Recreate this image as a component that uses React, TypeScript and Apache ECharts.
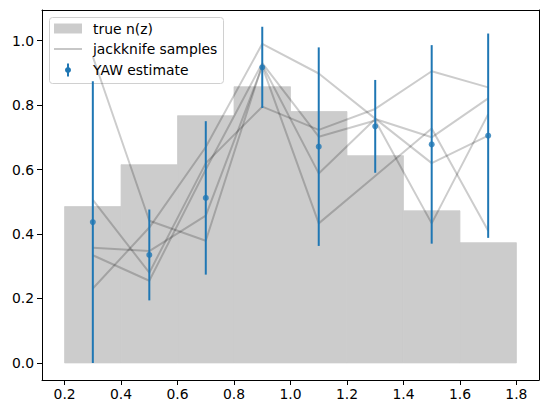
import React, { useEffect, useRef } from 'react';
import * as echarts from 'echarts';

// histogram bins of the true redshift distribution
const binEdges = [0.2, 0.4, 0.6, 0.8, 1.0, 1.2, 1.4, 1.6, 1.8];
const trueNz = [0.485, 0.615, 0.767, 0.857, 0.78, 0.643, 0.472, 0.373];

// YAW estimate at the bin centres, with symmetric errors
const zMid = [0.3, 0.5, 0.7, 0.9, 1.1, 1.3, 1.5, 1.7];
const yawValues = [0.437, 0.335, 0.512, 0.917, 0.671, 0.734, 0.678, 0.705];
const yawErrors = [0.437, 0.141, 0.238, 0.126, 0.308, 0.144, 0.308, 0.317];

// jackknife samples
const jack1 = [0.95, 0.441, 0.379, 0.925, 0.588, 0.757, 0.7, 0.821];
const jack2 = [0.506, 0.28, 0.62, 0.795, 0.723, 0.788, 0.905, 0.855];
const jack3 = [0.357, 0.347, 0.457, 0.92, 0.433, 0.58, 0.727, 0.41];
const jack4 = [0.334, 0.255, 0.6, 0.93, 0.702, 0.752, 0.433, 0.772];
const jack5 = [0.231, 0.42, 0.67, 0.99, 0.898, 0.758, 0.62, 0.705];
const jackSamples = [jack1, jack2, jack3, jack4, jack5];

const xTicks = [0.2, 0.4, 0.6, 0.8, 1.0, 1.2, 1.4, 1.6, 1.8];
const yTicks = [0.0, 0.2, 0.4, 0.6, 0.8, 1.0];

const FONT = 'DejaVu Sans';
const BLUE = '#1f77b4';
const X_MIN = 0.12;
const X_MAX = 1.88;
const Y_MIN = -0.053;
const Y_MAX = 1.095;

const App: React.FC = () => {
  const chartRef = useRef<HTMLDivElement | null>(null);

  useEffect(() => {
    if (!chartRef.current) return;
    const chart = echarts.init(chartRef.current, undefined, { renderer: 'svg' });

    const histData = trueNz.map((h, i) => [binEdges[i], binEdges[i + 1], h]);
    const errData = zMid.map((z, i) => [z, yawValues[i], yawErrors[i]]);

    const jackSeries = jackSamples.map((s) => ({
      type: 'line',
      data: zMid.map((z, i) => [z, s[i]]),
      showSymbol: false,
      symbol: 'none',
      lineStyle: { color: 'rgba(0,0,0,0.2)', width: 2 },
      z: 3,
      silent: true,
    }));

    const spine = { show: true, onZero: false, lineStyle: { color: '#000', width: 1 } };

    const option: any = {
      animation: false,
      grid: { left: 42, top: 10, right: 8, bottom: 33 },
      xAxis: [
        {
          type: 'value',
          min: X_MIN,
          max: X_MAX,
          splitLine: { show: false },
          axisLine: spine,
          axisTick: {
            show: true,
            length: 5,
            lineStyle: { color: '#000', width: 1 },
            customValues: xTicks,
          },
          axisLabel: {
            color: '#000',
            fontFamily: FONT,
            fontSize: 13.9,
            margin: 7,
            customValues: xTicks,
            formatter: (v: number) => v.toFixed(1),
          },
        },
        {
          type: 'value',
          position: 'top',
          min: X_MIN,
          max: X_MAX,
          splitLine: { show: false },
          axisLine: spine,
          axisTick: { show: false },
          axisLabel: { show: false },
        },
      ],
      yAxis: [
        {
          type: 'value',
          min: Y_MIN,
          max: Y_MAX,
          splitLine: { show: false },
          axisLine: spine,
          axisTick: {
            show: true,
            length: 5,
            lineStyle: { color: '#000', width: 1 },
            customValues: yTicks,
          },
          axisLabel: {
            color: '#000',
            fontFamily: FONT,
            fontSize: 13.9,
            margin: 8,
            customValues: yTicks,
            formatter: (v: number) => v.toFixed(1),
          },
        },
        {
          type: 'value',
          position: 'right',
          min: Y_MIN,
          max: Y_MAX,
          splitLine: { show: false },
          axisLine: spine,
          axisTick: { show: false },
          axisLabel: { show: false },
        },
      ],
      series: [
        {
          type: 'custom',
          data: histData,
          encode: { x: [0, 1], y: 2 },
          z: 1,
          silent: true,
          renderItem: (params: any, api: any) => {
            const p0 = api.coord([api.value(0), api.value(2)]);
            const p1 = api.coord([api.value(1), 0]);
            return {
              type: 'rect',
              shape: { x: p0[0], y: p0[1], width: p1[0] - p0[0], height: p1[1] - p0[1] },
              style: { fill: '#cccccc', stroke: '#cccccc', lineWidth: 0.8 },
            };
          },
        },
        ...jackSeries,
        {
          type: 'custom',
          data: errData,
          encode: { x: 0, y: 1 },
          z: 5,
          silent: true,
          renderItem: (params: any, api: any) => {
            const x = api.value(0);
            const y = api.value(1);
            const e = api.value(2);
            const lo = api.coord([x, y - e]);
            const hi = api.coord([x, y + e]);
            return {
              type: 'line',
              shape: { x1: lo[0], y1: lo[1], x2: hi[0], y2: hi[1] },
              style: { stroke: BLUE, lineWidth: 2 },
            };
          },
        },
        {
          type: 'scatter',
          data: zMid.map((z, i) => [z, yawValues[i]]),
          symbol: 'circle',
          symbolSize: 6,
          itemStyle: { color: BLUE },
          z: 6,
          silent: true,
        },
      ],
      graphic: [
        {
          type: 'group',
          z: 100,
          children: [
            {
              type: 'rect',
              shape: { x: 49.5, y: 17.5, width: 174, height: 66, r: 3 },
              style: { fill: 'rgba(255,255,255,0.8)', stroke: '#d0d0d0', lineWidth: 1 },
            },
            {
              type: 'rect',
              shape: { x: 54, y: 23.5, width: 28, height: 10 },
              style: { fill: '#cccccc' },
            },
            {
              type: 'text',
              x: 93,
              y: 28.5,
              style: { text: 'true n(z)', fontFamily: FONT, fontSize: 13.9, fill: '#000', verticalAlign: 'middle' },
            },
            {
              type: 'line',
              shape: { x1: 54, y1: 49, x2: 82, y2: 49 },
              style: { stroke: 'rgba(0,0,0,0.22)', lineWidth: 2 },
            },
            {
              type: 'text',
              x: 93,
              y: 49,
              style: { text: 'jackknife samples', fontFamily: FONT, fontSize: 13.9, fill: '#000', verticalAlign: 'middle' },
            },
            {
              type: 'line',
              shape: { x1: 68, y1: 63.5, x2: 68, y2: 76.5 },
              style: { stroke: BLUE, lineWidth: 2 },
            },
            {
              type: 'circle',
              shape: { cx: 68, cy: 70, r: 3 },
              style: { fill: BLUE },
            },
            {
              type: 'text',
              x: 93,
              y: 70,
              style: { text: 'YAW estimate', fontFamily: FONT, fontSize: 13.9, fill: '#000', verticalAlign: 'middle' },
            },
          ],
        },
      ],
    };

    chart.setOption(option);
    return () => {
      chart.dispose();
    };
  }, []);

  return (
    <div
      ref={chartRef}
      style={{ position: 'fixed', left: 0, top: 0, width: '547px', height: '413px', background: '#fff' }}
    />
  );
};

export default App;
